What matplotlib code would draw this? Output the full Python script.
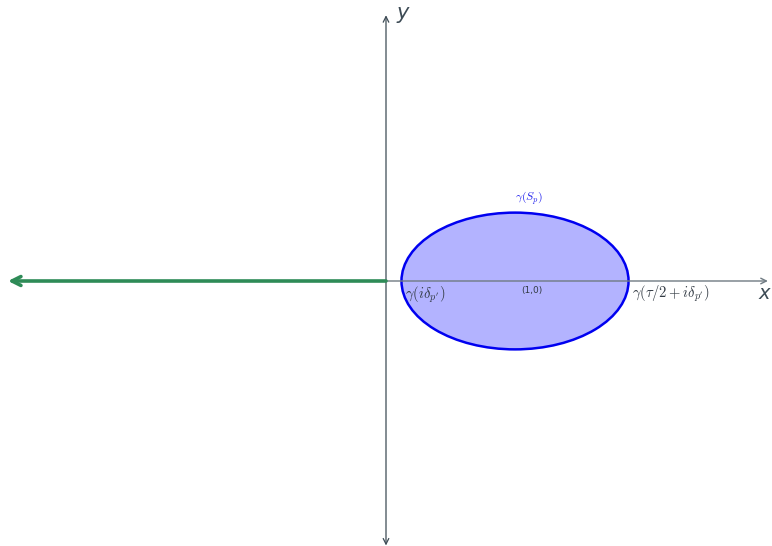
import numpy as np
import matplotlib
matplotlib.use("Agg")
import matplotlib.pyplot as plt
from matplotlib.patches import Ellipse, FancyArrowPatch

# ---------------------------------------------------------------------------
# Data (plot units: 1 unit = distance from origin to (1, 0))
# ---------------------------------------------------------------------------
center = (1.0, 0.0)
semi_axes = (0.88, 0.53)          # half width, half height of gamma(S_p)
x_axis_end = 2.96
y_axis_range = (-2.05, 2.06)
ray_end = -2.93                   # green ray along the negative real axis

labels = {
    "top": r"$\gamma(S_p)$",
    "left": r"$\gamma(i\delta_{p'})$",
    "right": r"$\gamma(\tau/2+i\delta_{p'})$",
    "center": "(1,0)",
}

plt.rcParams["mathtext.fontset"] = "cm"

fig = plt.figure(figsize=(7.72, 5.46), dpi=100)
ax = fig.add_axes([0, 0, 1, 1])
ax.set_xlim(-2.992, 2.992)
ax.set_ylim(-2.054, 2.178)
ax.set_aspect("equal")
ax.axis("off")

axis_col = "#3d4b55"

# ellipse
ell = Ellipse(center, 2 * semi_axes[0], 2 * semi_axes[1],
              facecolor="#b3b3ff", edgecolor="#0000f0", lw=1.8, zorder=2)
ax.add_patch(ell)

# x axis
ax.add_patch(FancyArrowPatch((0, 0), (x_axis_end, 0), arrowstyle="->",
                             mutation_scale=10, color="#6f7a82", lw=1.0,
                             shrinkA=0, shrinkB=0, zorder=3))
# y axis, arrows at both ends
ax.add_patch(FancyArrowPatch((0, y_axis_range[0]), (0, y_axis_range[1]),
                             arrowstyle="<->", mutation_scale=10,
                             color=axis_col, lw=0.9,
                             shrinkA=0, shrinkB=0, zorder=3))
# green ray
ax.add_patch(FancyArrowPatch((0, 0), (ray_end, 0), arrowstyle="->",
                             mutation_scale=16, color="#2e8b57", lw=2.6,
                             shrinkA=0, shrinkB=0, zorder=4))

# labels
ax.text(0.08, y_axis_range[1] + 0.02, "y", fontsize=15, style="italic",
        color=axis_col, ha="left", va="center")
ax.text(x_axis_end - 0.03, -0.10, "x", fontsize=14, style="italic",
        color=axis_col, ha="center", va="center")
ax.text(center[0] + 0.11, semi_axes[1] + 0.11, labels["top"], fontsize=8.5,
        color="#2020ee", ha="center", va="center")
ax.text(center[0] - semi_axes[0] + 0.03, -0.11, labels["left"], fontsize=10.5,
        color="#333b44", ha="left", va="center")
ax.text(center[0] + semi_axes[0] + 0.03, -0.10, labels["right"], fontsize=10.5,
        color="#333b44", ha="left", va="center")
ax.text(center[0] + 0.13, -0.07, labels["center"], fontsize=6.5,
        color="#333b44", ha="center", va="center")

fig.savefig("out.png", dpi=100, facecolor="white")
